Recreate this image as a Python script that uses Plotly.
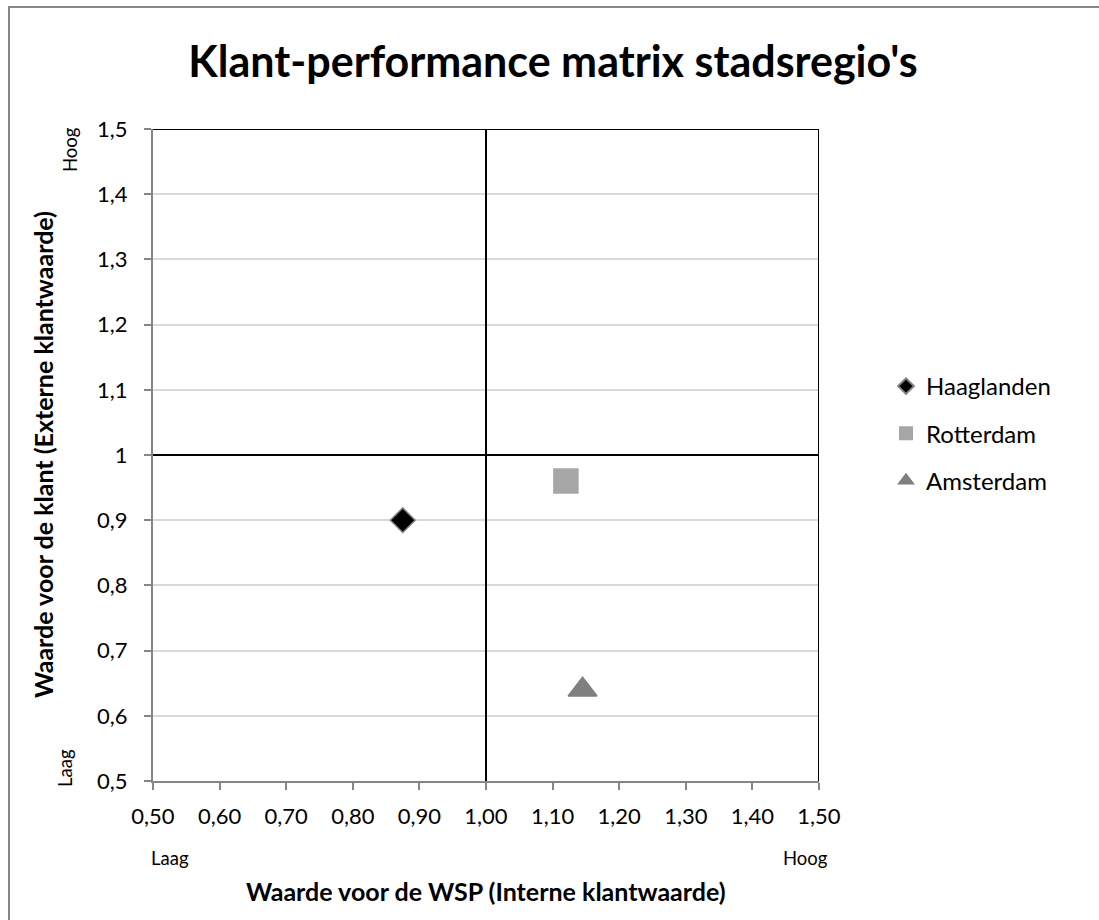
import plotly.graph_objects as go

# Regional scores: internal (WSP) value vs external customer value
regions = ["Haaglanden", "Rotterdam", "Amsterdam"]
wsp_value = [0.875, 1.12, 1.145]
customer_value = [0.90, 0.96, 0.64]
marker_symbols = ["diamond", "square", "triangle-up"]
marker_colors = ["#000000", "#a6a6a6", "#7f7f7f"]
marker_line_colors = ["#7f7f7f", "#a6a6a6", "#7f7f7f"]
marker_sizes = [19, 24, 25]

# Quadrant divider lines (x = 1, y = 1) and the closing top/right edges
v_line_x = [1.0, 1.0]
v_line_y = [0.5, 1.5]
h_line_x = [0.5, 1.5]
h_line_y = [1.0, 1.0]
top_x = [0.5, 1.5]
top_y = [1.5, 1.5]
right_x = [1.5, 1.5]
right_y = [0.5, 1.5]

x_ticks = [0.5, 0.6, 0.7, 0.8, 0.9, 1.0, 1.1, 1.2, 1.3, 1.4, 1.5]
x_tick_text = ["0,50", "0,60", "0,70", "0,80", "0,90", "1,00", "1,10", "1,20", "1,30", "1,40", "1,50"]
y_ticks = [0.5, 0.6, 0.7, 0.8, 0.9, 1.0, 1.1, 1.2, 1.3, 1.4, 1.5]
y_tick_text = ["0,5", "0,6", "0,7", "0,8", "0,9", "1", "1,1", "1,2", "1,3", "1,4", "1,5"]

FONT = "Lato, 'Open Sans', sans-serif"

fig = go.Figure()

for lx, ly in [(v_line_x, v_line_y), (h_line_x, h_line_y), (top_x, top_y), (right_x, right_y)]:
    fig.add_trace(go.Scatter(x=lx, y=ly, mode="lines",
                             line=dict(color="#000000", width=2),
                             showlegend=False, hoverinfo="skip"))

for name, x, y, sym, col, lcol, size in zip(regions, wsp_value, customer_value,
                                            marker_symbols, marker_colors,
                                            marker_line_colors, marker_sizes):
    fig.add_trace(go.Scatter(
        x=[x], y=[y], mode="markers", name=name, legendgroup=name,
        marker=dict(symbol=sym, color=col, size=size,
                    line=dict(color=lcol, width=1.5)),
    ))

W, H = 1099, 920
L, R, T, B = 153, 280, 129, 139
pw, ph = W - L - R, H - T - B


def px_x(px):
    return (px - L) / pw


def px_y(py):
    return (H - B - py) / ph


fig.update_layout(
    width=W, height=H,
    margin=dict(l=L, r=R, t=T, b=B),
    paper_bgcolor="white", plot_bgcolor="white",
    font=dict(family=FONT, color="#000000", size=22),
    title=dict(text="<b>Klant-performance matrix stadsregio's</b>",
               x=553 / W, xanchor="center", xref="container",
               y=1 - 62 / H, yref="container", yanchor="middle",
               font=dict(size=43, family=FONT, color="#000000")),
    xaxis=dict(range=[0.5, 1.5], tickvals=x_ticks, ticktext=x_tick_text,
               showgrid=False, zeroline=False, showline=True,
               linecolor="#868686", linewidth=2, ticks="outside",
               tickcolor="#868686", ticklen=7, tickwidth=1.5,
               ticklabelstandoff=8,
               tickfont=dict(size=22), fixedrange=True),
    yaxis=dict(range=[0.5, 1.5], tickvals=y_ticks, ticktext=y_tick_text,
               showgrid=True, gridcolor="#d9d9d9", gridwidth=1.5,
               zeroline=False, showline=True,
               linecolor="#868686", linewidth=2, ticks="outside",
               tickcolor="#868686", ticklen=7, tickwidth=1.5,
               ticklabelstandoff=12,
               tickfont=dict(size=22), fixedrange=True),
    legend=dict(x=px_x(886), y=px_y(364), xanchor="left", yanchor="top",
                font=dict(size=24), tracegroupgap=13, itemsizing="constant",
                bgcolor="rgba(0,0,0,0)"),
    showlegend=True,
)

annotations = [
    dict(text="<b>Waarde voor de WSP (Interne klantwaarde)</b>", x=px_x(486), y=px_y(891),
         font=dict(size=25)),
    dict(text="<b>Waarde voor de klant (Externe klantwaarde)</b>", x=px_x(43), y=px_y(455),
         textangle=-90, font=dict(size=25)),
    dict(text="Laag", x=px_x(170), y=px_y(858), font=dict(size=18.5)),
    dict(text="Hoog", x=px_x(805), y=px_y(858), font=dict(size=18.5)),
    dict(text="Hoog", x=px_x(70), y=px_y(150), textangle=-90, font=dict(size=18.5)),
    dict(text="Laag", x=px_x(65), y=px_y(768), textangle=-90, font=dict(size=18.5)),
]
for a in annotations:
    fig.add_annotation(xref="paper", yref="paper", showarrow=False,
                       xanchor="center", yanchor="middle", **a)

# Chart frame
fig.add_shape(type="rect", xref="paper", yref="paper",
              x0=px_x(9), x1=px_x(W + 20), y0=px_y(H + 20), y1=px_y(7),
              line=dict(color="#878787", width=2), fillcolor="rgba(0,0,0,0)",
              layer="below")

fig.write_html("out.html")
